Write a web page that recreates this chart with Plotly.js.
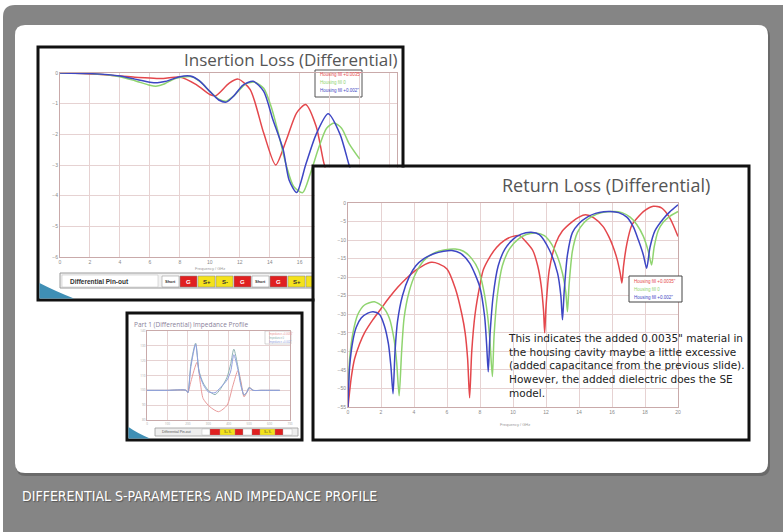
<!DOCTYPE html>
<html><head><meta charset="utf-8">
<script src="https://cdn.plot.ly/plotly-3.0.1.min.js"></script>
<style>html,body{margin:0;padding:0;background:#fff;}#chart{width:783px;height:532px;}</style>
</head><body><div id="chart"></div>
<script>
// ---------- Insertion loss (dB vs GHz) ----------
const ilFreqRed = [0,1,2,3,4,5,6,6.9,8,9.1,10,10.4,11.3,11.9,12.7,13.6,14.4,15.1,15.8,16.4,17.1,17.6,18.2,18.7,19.2,19.6,20];
const ilRed     = [0,-0.01,-0.03,-0.06,-0.1,-0.14,-0.16,-0.18,-0.13,-0.38,-0.7,-0.74,-0.33,-0.2,-0.54,-1.96,-3.0,-2.2,-1.3,-1.03,-1.74,-2.9,-4.0,-4.6,-4.7,-4.3,-3.7];
const ilFreqGreen = [0,2,4,5,6,6.4,7,7.5,8,8.8,9.4,10,10.6,11.1,11.7,12.4,13.0,13.6,14.1,14.6,15.1,15.6,16.2,16.7,17.3,17.8,18.3,18.8,19.3,20];
const ilGreen     = [0,-0.02,-0.12,-0.25,-0.4,-0.43,-0.35,-0.22,-0.15,-0.12,-0.3,-0.6,-0.85,-0.92,-0.7,-0.35,-0.3,-0.5,-1.1,-2.0,-3.0,-3.7,-3.9,-3.3,-2.4,-1.8,-1.63,-1.8,-2.3,-2.8];
const ilFreqBlue = [0,2,4,5,6,6.5,7,7.5,8,8.7,9.3,10,10.6,11.1,11.6,12.2,12.9,13.6,14.2,14.9,15.3,15.8,16.4,17.1,17.9,18.7,19.3,19.7,20];
const ilBlue     = [0,-0.02,-0.1,-0.2,-0.3,-0.32,-0.28,-0.2,-0.12,-0.1,-0.25,-0.6,-0.88,-0.95,-0.75,-0.4,-0.27,-0.6,-1.5,-2.5,-3.5,-3.9,-3.0,-2.0,-1.33,-2.0,-3.0,-3.6,-4.0];

// ---------- Return loss (dB vs GHz) ----------
const rlFreqRed = [0,0.2,0.4,0.7,1.0,1.5,2.0,2.5,3.0,3.5,4.0,4.5,5.05,5.5,6.0,6.5,6.9,7.1,7.25,7.37,7.5,7.7,8.0,8.2,8.6,9.0,9.5,10.0,10.4,10.8,11.2,11.5,11.7,11.85,11.92,12.0,12.2,12.6,13.0,13.6,14.0,14.4,14.9,15.45,15.8,16.06,16.3,16.5,16.6,16.7,16.9,17.2,17.5,18.0,18.5,19.0,19.5,20];
const rlRed     = [-55,-47,-42,-38,-35,-31.5,-28.5,-25.5,-22.8,-20.5,-18.5,-17,-16,-16.4,-17.8,-23,-30,-35,-42,-52.5,-40,-30,-22,-18,-14.5,-12,-10,-9,-8.8,-10.5,-12.8,-17,-22,-29,-35,-28,-18,-10.8,-7.5,-5,-3.8,-3.2,-4,-6.3,-9,-11.7,-15,-19,-21.6,-17,-11,-6,-4.2,-2,-0.9,-1.3,-4,-9];
const rlFreqGreen = [0,0.1,0.3,0.6,1.0,1.6,2.1,2.5,2.8,2.95,3.1,3.25,3.4,3.7,4.1,4.6,5.2,5.9,6.5,7.0,7.5,7.9,8.2,8.45,8.6,8.75,8.85,9.05,9.35,9.8,10.3,10.8,11.4,11.9,12.3,12.7,13.0,13.2,13.3,13.4,13.6,13.9,14.3,14.8,15.4,16.1,16.6,17.1,17.5,17.9,18.2,18.4,18.55,18.8,19.1,19.5,20];
const rlGreen     = [-52,-42,-35,-30,-27.5,-26.6,-28,-31,-37,-43,-52,-40,-31,-24,-19,-15.5,-13.5,-12.6,-12.4,-13,-15,-18,-23,-30,-37,-46.8,-36,-25,-17,-12.3,-9.8,-8.5,-8.1,-8.8,-10.8,-14.5,-19,-24,-29.3,-22,-13,-8,-5.3,-3.6,-2.6,-2.3,-2.6,-3.8,-5.8,-9,-13,-16.7,-12,-7.5,-5.2,-3.6,-2.3];
const rlFreqBlue = [0,0.1,0.3,0.5,0.8,1.2,1.52,1.9,2.2,2.45,2.6,2.73,2.85,3.0,3.3,3.7,4.1,4.6,5.2,5.8,6.3,6.8,7.37,7.98,8.28,8.4,8.5,8.6,8.8,9.1,9.5,10.0,10.5,11.1,11.6,12.2,12.7,12.9,13.0,13.1,13.3,13.6,14.0,14.5,15.0,15.5,15.9,16.4,16.9,17.3,17.6,17.9,18.1,18.3,18.6,19.1,19.5,20];
const rlBlue     = [-55,-44,-37,-33.5,-31,-29.7,-29.3,-30,-33,-38,-44,-51.4,-40,-32,-25,-20,-17,-15,-13.7,-13,-12.8,-13.5,-16.2,-22.5,-30.6,-38,-45.5,-36,-25,-17,-12.5,-9.8,-8.4,-7.9,-8.5,-12.6,-18.9,-25,-31.5,-24,-14,-8,-5.5,-3.8,-2.8,-2.35,-2.3,-2.6,-3.8,-6.5,-10,-14,-17.6,-12,-7.5,-4.3,-2.4,-0.5];

// ---------- Impedance profile (ohm vs ps) ----------
const zTime = [0,100,192,200,215,238,255,275,300,333,360,392,410,425,445,460,475,490,500,520,560,600,650];
const zGray = [100,100,100,98.4,118,131.8,113,105,100,97.1,101,108.9,118,127.8,116,104,96.7,99,102,100,100,100,100];
const zBlue = [100,100,100,98.4,116,131,112,104,99,98.4,102,107,113,124,114,103,97,99,101.5,100,100,100,100];
const zTimeRed = [0,100,192,200,215,245,262,275,308,350,392,420,445,460,475,490,500,520,560,600,650];
const zRed     = [100,100,100,98.4,106,118.9,104,94.4,88.9,85.6,90,103,113.3,106,95.6,99,102,100,100,100,100];

const seriesNames = ['Housing fill +0.0035"', 'Housing fill 0', 'Housing fill +0.002"'];
const zNames = ['Impedance +0.0035"', 'Impedance 0', 'Impedance +0.002"'];
const lineColors = ['#e4474c', '#8fd46f', '#3d46c4'];
const zColors = ['#e99a9a', '#8fb3b3', '#8f9fe0'];

const pinCells = ['Short','G','S+','S-','G','Short','G','S+'];
const pinColors = ['#ffffff','#e02020','#f4e21a','#f4e21a','#e02020','#ffffff','#e02020','#f4e21a'];
const zPinCells = ['','','S+ S-','','','','S+ S-','',''];
const zPinColors = ['#ffffff','#e02020','#f4e21a','#e02020','#ffffff','#e02020','#f4e21a','#e02020','#ffffff'];
const zPinEdges = [202,210,220,235,243,252,260,275,283,292];

// ---------- helpers (pixel -> paper) ----------
const W=783,H=532;
const px=x=>x/W, py=y=>1-y/H;
function rr(x0,y0,x1,y1,r){
  const f=(x,y)=>px(x).toFixed(5)+','+py(y).toFixed(5);
  return 'M'+f(x0+r,y0)+' L'+f(x1-r,y0)+' Q'+f(x1,y0)+' '+f(x1,y0+r)+' L'+f(x1,y1-r)+' Q'+f(x1,y1)+' '+f(x1-r,y1)+
         ' L'+f(x0+r,y1)+' Q'+f(x0,y1)+' '+f(x0,y1-r)+' L'+f(x0,y0+r)+' Q'+f(x0,y0)+' '+f(x0+r,y0)+' Z';
}
function rect(x0,y0,x1,y1,fill,line,lw,layer){
  return {type:'rect',xref:'paper',yref:'paper',x0:px(x0),x1:px(x1),y0:py(y1),y1:py(y0),
          fillcolor:fill||'rgba(0,0,0,0)',line:{color:line||'rgba(0,0,0,0)',width:lw||0},layer:layer||'below'};
}
function pathShape(d,fill,layer){return {type:'path',xref:'paper',yref:'paper',path:d,fillcolor:fill,line:{width:0},layer:layer||'below'};}
function ann(x,y,text,size,color,opts){
  return Object.assign({xref:'paper',yref:'paper',x:px(x),y:py(y),text:text,showarrow:false,
    font:{size:size,color:color,family:'Liberation Sans, Arial, sans-serif'},xanchor:'left',yanchor:'middle'},opts||{});
}

const traces=[];
function line(x,y,color,name,xa,ya,w){
  traces.push({type:'scatter',mode:'lines',x:x,y:y,name:name,xaxis:xa,yaxis:ya,
    line:{color:color,width:w||1.5,shape:'spline',smoothing:0.7},hoverinfo:'skip',showlegend:false});
}
line(ilFreqRed,ilRed,lineColors[0],seriesNames[0],'x','y');
line(ilFreqGreen,ilGreen,lineColors[1],seriesNames[1],'x','y');
line(ilFreqBlue,ilBlue,lineColors[2],seriesNames[2],'x','y');
// panel cover subplot (draws the white card of the return-loss panel)
traces.push({type:'scatter',mode:'lines',x:[null],y:[null],xaxis:'x2',yaxis:'y2',showlegend:false,hoverinfo:'skip'});
line(rlFreqRed,rlRed,lineColors[0],seriesNames[0],'x3','y3');
line(rlFreqGreen,rlGreen,lineColors[1],seriesNames[1],'x3','y3');
line(rlFreqBlue,rlBlue,lineColors[2],seriesNames[2],'x3','y3');
line(zTimeRed,zRed,zColors[0],zNames[0],'x4','y4',1);
line(zTime,zGray,zColors[1],zNames[1],'x4','y4',1);
line(zTime,zBlue,zColors[2],zNames[2],'x4','y4',1);

const grid='#e6d2d2', axl='#c9aaaa', tf={size:5,color:'#8a8a8a',family:'Liberation Sans, Arial'};
function ax(dom,range,dtick,anchor,extra){
  return Object.assign({domain:dom,range:range,dtick:dtick,tick0:0,anchor:anchor,showgrid:true,gridcolor:grid,gridwidth:1,
    zeroline:false,showline:true,linecolor:axl,mirror:true,ticks:'',tickfont:tf,fixedrange:true,automargin:false},extra||{});
}

const shapes=[
  pathShape(rr(3,5,800,560,12),'#858585'),
  pathShape(rr(16,27,770,476,10),'#6a6a6a'),
  pathShape(rr(15,25,768,473,10),'#ffffff'),
  // insertion loss panel
  rect(38,47,403,300,'#ffffff','#111111',3),
  rect(60,273,313,288,'#f2f2f2','#9a9a9a',1),
  rect(62,275,158,287,'#ffffff','#bbbbbb',0.5),
  pathShape('M'+px(39.5)+','+py(283)+' Q'+px(55)+','+py(291)+' '+px(74)+','+py(298.5)+' L'+px(39.5)+','+py(298.5)+' Z','#3f8fb5'),
  rect(315,70,362,97,'#ffffff','#555555',1),
  // impedance panel
  rect(127,313,302,440,'#ffffff','#111111',3),
  rect(155,428,298,436,'#eeeeee','#999999',0.8),
  pathShape('M'+px(128.5)+','+py(427)+' Q'+px(137)+','+py(433)+' '+px(150)+','+py(438.5)+' L'+px(128.5)+','+py(438.5)+' Z','#3f8fb5'),
  rect(265,331,291,344,'#ffffff','#bbbbbb',0.6),
  // return loss panel frame and legend
  rect(313,166,749,440,'rgba(0,0,0,0)','#111111',3,'above'),
  rect(629,276,682,302,'#ffffff','#444444',1,'above')
];
for(let i=0;i<pinCells.length;i++){
  const x0=162+i*18; shapes.push(rect(x0,276,Math.min(x0+17,313),287,pinColors[i],'#888888',0.5));
}
shapes.push(rect(306,276,313,287,'#f4e21a','#888888',0.5));
for(let i=0;i<zPinColors.length;i++){
  shapes.push(rect(zPinEdges[i],429,zPinEdges[i+1],435,zPinColors[i],'#999999',0.3));
}

const annotations=[
  ann(20,496,'DIFFERENTIAL S-PARAMETERS AND IMPEDANCE PROFILE',14,'#ffffff',{font:{size:14,color:'#ffffff',family:'DejaVu Sans Condensed, Liberation Sans Narrow, sans-serif',shadow:'1px 1px 1px #555'}}),
  ann(400,60,'Insertion Loss (Differential)',17,'#555555',{xanchor:'right',font:{size:17,color:'#555555',family:'Open Sans, Noto Sans, sans-serif'}}),
  ann(712,185,'Return Loss (Differential)',18,'#555555',{xanchor:'right',font:{size:18,color:'#555555',family:'Open Sans, Noto Sans, sans-serif'}}),
  ann(132,324,'Part 1 (Differential) Impedance Profile',6.5,'#8a7f9a',{font:{size:6.5,color:'#8a7f9a',family:'Open Sans, Noto Sans, sans-serif'}}),
  ann(506,330,'This indicates the added 0.0035" material in<br>the housing cavity maybe a little excessive<br>(added capacitance from the previous slide).<br>However, the added dielectric does the SE<br>model.',10.5,'#222222',{yanchor:'top',align:'left',font:{size:10.5,color:'#222222',family:'DejaVu Sans, sans-serif'}}),
  ann(68,281,'<b>Differential Pin-out</b>',6.5,'#333333'),
  ann(210,268,'Frequency / GHz',4,'#999999',{xanchor:'center'}),
  ann(515,424,'Frequency / GHz',4,'#999999',{xanchor:'center'}),
  ann(160,432,'Differential Pin-out',3.5,'#555555')
];
for(let i=0;i<pinCells.length;i++){
  annotations.push(ann(162+i*18+8.5,281.5,'<b>'+pinCells[i]+'</b>',pinCells[i].length>2?4:6,pinColors[i]==='#e02020'?'#ffffff':'#333333',{xanchor:'center'}));
}
for(let i=0;i<zPinCells.length;i++){
  if(zPinCells[i]) annotations.push(ann((zPinEdges[i]+zPinEdges[i+1])/2,432,zPinCells[i],3,'#444444',{xanchor:'center'}));
}
for(let i=0;i<3;i++){
  annotations.push(ann(318,75+i*8,seriesNames[i],4.5,lineColors[i]));
  annotations.push(ann(632,281+i*8,seriesNames[i],4.5,lineColors[i]));
  annotations.push(ann(267,334+i*4,zNames[i],2.6,zColors[i]));
}

const layout={
  width:W,height:H,autosize:false,margin:{l:0,r:0,t:0,b:0},
  paper_bgcolor:'#ffffff',plot_bgcolor:'#ffffff',showlegend:false,
  xaxis:ax([px(60),px(397)],[0,22.5],2,'y'),
  yaxis:ax([py(257),py(73)],[-6,0],1,'x'),
  xaxis2:{domain:[px(314.5),px(747.5)],range:[0,1],visible:false,anchor:'y2',fixedrange:true},
  yaxis2:{domain:[py(438.5),py(167.5)],range:[0,1],visible:false,anchor:'x2',fixedrange:true},
  xaxis3:ax([px(348),px(678)],[0,20],2,'y3'),
  yaxis3:ax([py(407),py(203)],[-55,0],5,'x3'),
  xaxis4:ax([px(147),px(290)],[0,700],100,'y4',{tickfont:{size:3,color:'#aaaaaa'}}),
  yaxis4:ax([py(420),py(331)],[80,140],10,'x4',{tickfont:{size:3,color:'#aaaaaa'}}),
  shapes:shapes,annotations:annotations
};
Plotly.newPlot('chart',traces,layout,{staticPlot:true,displayModeBar:false});
</script></body></html>
